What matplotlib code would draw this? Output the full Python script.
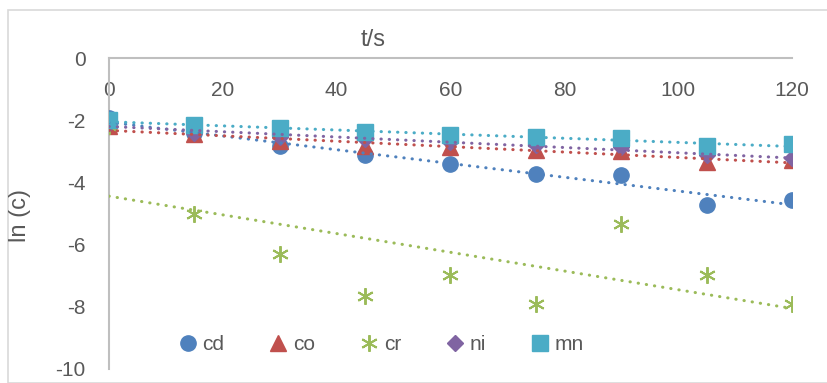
import matplotlib.pyplot as plt
import numpy as np
from matplotlib.patches import Rectangle

# sampling times (s)
t = [0, 15, 30, 45, 60, 75, 90, 105, 120]

# ln of concentration for each metal
cd = [-1.94, -2.42, -2.82, -3.13, -3.42, -3.74, -3.77, -4.74, -4.55]
co = [-2.20, -2.45, -2.68, -2.84, -2.87, -2.97, -3.00, -3.35, -3.29]
cr = [-2.20, -5.00, -6.29, -7.65, -6.97, -7.90, -5.35, -6.97, -7.90]
ni = [-2.08, -2.40, -2.55, -2.62, -2.70, -2.80, -2.87, -3.13, -3.23]
mn = [-2.00, -2.16, -2.26, -2.38, -2.48, -2.55, -2.58, -2.84, -2.78]

names = ["cd", "co", "cr", "ni", "mn"]
series = [cd, co, cr, ni, mn]
colors = ["#4F81BD", "#C0504D", "#9BBB59", "#8064A2", "#4BACC6"]
markers = ["o", "^", "x", "D", "s"]
msizes = [11, 11, 12, 8, 11]

plt.rcParams["font.family"] = ["Liberation Sans", "DejaVu Sans"]
plt.rcParams["axes.unicode_minus"] = False

fig = plt.figure(figsize=(8.28, 3.83), dpi=100)
ax = fig.add_axes([109 / 828, 1 - 369 / 383, 683 / 828, 311 / 383])

# chart area border
fig.patches.append(Rectangle((8 / 828, 0), 1.0, 1 - 10 / 383, transform=fig.transFigure,
                             fill=False, edgecolor="#d9d9d9", linewidth=1.2, clip_on=False))

x = np.array(t, dtype=float)
for name, y, c, m, ms in zip(names, series, colors, markers, msizes):
    if m == "x":
        # asterisk-like marker
        ax.plot(x, y, linestyle="none", marker=(6, 2, 0), markersize=ms,
                markeredgecolor=c, markeredgewidth=1.4, label=name, zorder=3)
    else:
        ax.plot(x, y, linestyle="none", marker=m, markersize=ms, color=c,
                markeredgecolor=c, label=name, zorder=3)
    # linear trendline
    k, b = np.polyfit(x, y, 1)
    xs = np.array([0, 120])
    ax.plot(xs, k * xs + b, linestyle=(0, (0.1, 2.6)), dash_capstyle="round",
            color=c, linewidth=2.2, zorder=4)

ax.set_xlim(0, 120)
ax.set_ylim(-10, 0)
ax.set_xticks(np.arange(0, 121, 20))
ax.set_yticks(np.arange(-10, 1, 2))

for s in ["bottom", "right"]:
    ax.spines[s].set_visible(False)
for s in ["top", "left"]:
    ax.spines[s].set_color("#bfbfbf")
    ax.spines[s].set_linewidth(1.5)

ax.tick_params(axis="x", top=True, labeltop=True, bottom=False, labelbottom=False,
               length=0, pad=-30, labelsize=15, labelcolor="#595959")
ax.tick_params(axis="y", length=0, pad=17, labelsize=15, labelcolor="#595959")

fig.text(373 / 828, 1 - 40 / 383, "t/s", ha="center", va="center", fontsize=17, color="#595959")
fig.text(20 / 828, 1 - 215 / 383, "ln (c)", ha="center", va="center", rotation=90,
         fontsize=17, color="#595959")

ax.legend(loc="center left", bbox_to_anchor=(62 / 683, 1 - (345 - 58) / 311), ncol=5,
          frameon=False, fontsize=15, handlelength=0.8, handletextpad=0.3,
          columnspacing=2.2, labelcolor="#595959", borderaxespad=0)

fig.savefig("out.png", dpi=100)
